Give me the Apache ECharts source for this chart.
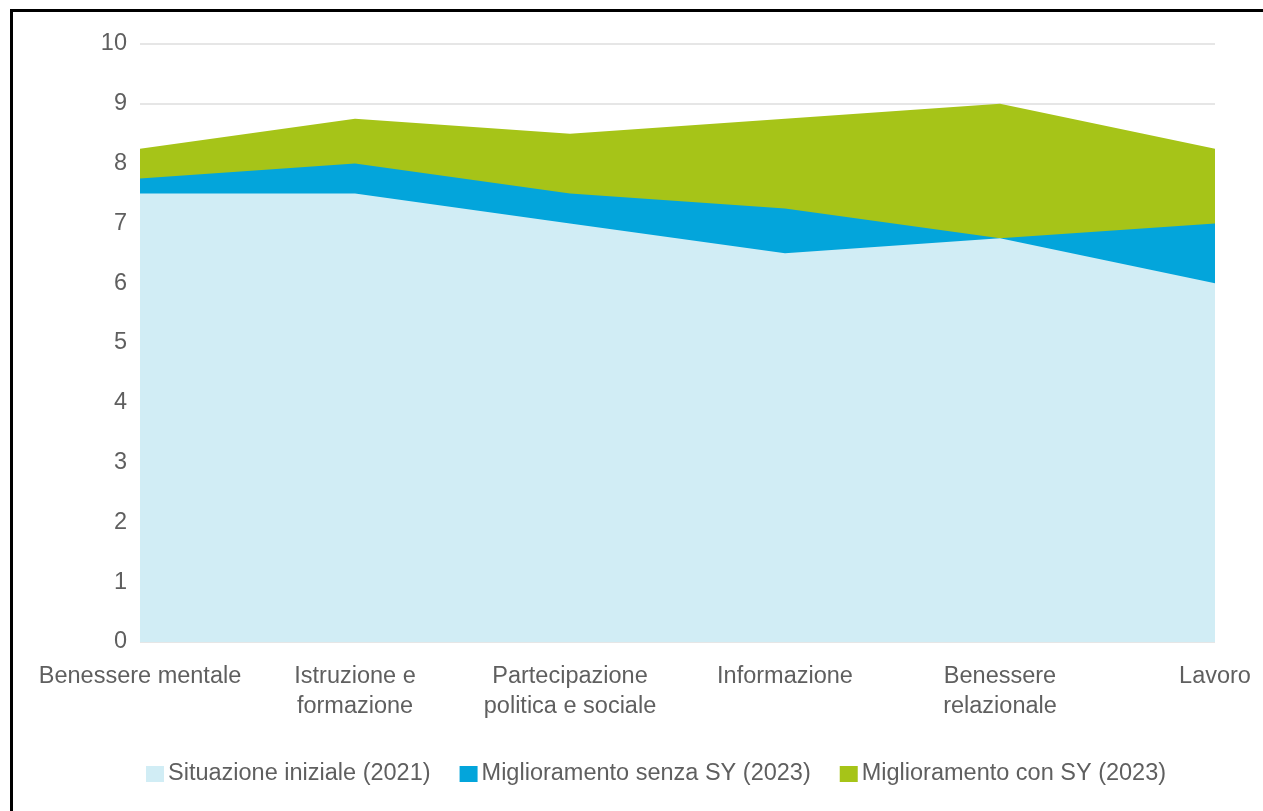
<!DOCTYPE html>
<html>
<head>
<meta charset="utf-8">
<script src="https://cdn.jsdelivr.net/npm/echarts@6/dist/echarts.min.js"></script>
<style>
html,body{margin:0;padding:0;background:#fff;}
#chart{width:1263px;height:811px;}
#frame{position:absolute;left:10px;top:9px;right:-10px;bottom:-10px;border-top:3px solid #000;border-left:3px solid #000;pointer-events:none;}
</style>
</head>
<body>
<div id="chart"></div>
<div id="frame"></div>
<script>
const categories = ['Benessere mentale', 'Istruzione e\nformazione', 'Partecipazione\npolitica e sociale', 'Informazione', 'Benessere\nrelazionale', 'Lavoro'];
const situazioneIniziale = [7.5, 7.5, 7.0, 6.5, 6.75, 6.0];
const miglioramentoSenzaSY = [7.75, 8.0, 7.5, 7.25, 6.75, 7.0];
const miglioramentoConSY = [8.25, 8.75, 8.5, 8.75, 9.0, 8.25];
const yTicks = [0, 10, 1];

const names = ['Situazione iniziale (2021)', 'Miglioramento senza SY (2023)', 'Miglioramento con SY (2023)'];
const colors = ['#D1EDF5', '#03A5DB', '#A6C418'];
const font = 'Liberation Sans, Arial, sans-serif';
const fs = 23.5;

function areaSeries(name, data, color, z) {
  return {
    name: name, type: 'line', data: data, z: z,
    symbol: 'none', showSymbol: false,
    lineStyle: { width: 0, color: color },
    itemStyle: { color: color },
    areaStyle: { color: color, opacity: 1 },
    emphasis: { disabled: true }
  };
}

const chart = echarts.init(document.getElementById('chart'));
chart.setOption({
  animation: false,
  grid: { left: 140, right: 48, top: 44, bottom: 169, containLabel: false },
  legend: {
    data: names,
    left: 141, top: 757,
    itemWidth: 18, itemHeight: 16, itemGap: 29,
    icon: 'rect',
    textStyle: { fontFamily: font, fontSize: fs, color: '#5f5f5f', padding: [0,0,0,-1] }
  },
  xAxis: {
    type: 'category', data: categories, boundaryGap: false,
    axisLine: { show: false }, axisTick: { show: false },
    axisLabel: { interval: 0, fontFamily: font, fontSize: fs, color: '#5f5f5f', lineHeight: 30, margin: 20 }
  },
  yAxis: {
    type: 'value', min: yTicks[0], max: yTicks[1], interval: yTicks[2],
    axisLine: { show: false }, axisTick: { show: false },
    axisLabel: { fontFamily: font, fontSize: fs, color: '#5f5f5f', margin: 13 },
    splitLine: { lineStyle: { color: '#e6e6e6', width: 2 } }
  },
  series: [
    areaSeries(names[2], miglioramentoConSY, colors[2], 1),
    areaSeries(names[1], miglioramentoSenzaSY, colors[1], 2),
    areaSeries(names[0], situazioneIniziale, colors[0], 3)
  ]
});
</script>
</body>
</html>
